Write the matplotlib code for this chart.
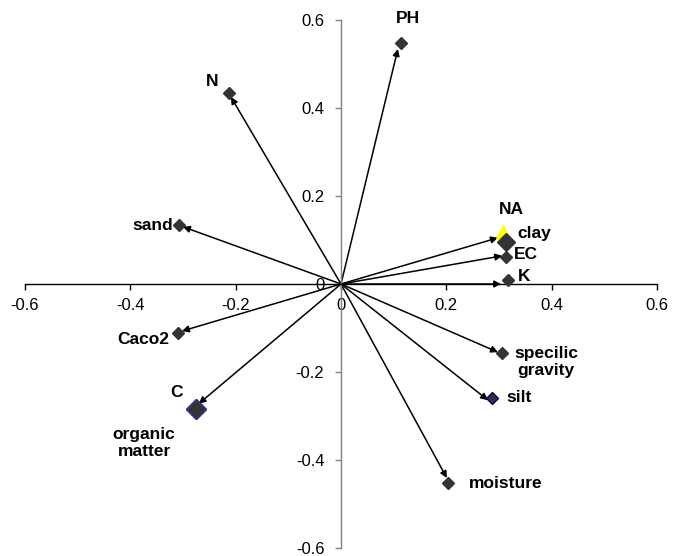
import matplotlib
matplotlib.use("Agg")
import matplotlib.pyplot as plt

plt.rcParams['font.family'] = ['Liberation Sans', 'DejaVu Sans']

# Variable loadings (marker positions)
variables = ["PH", "N", "sand", "NA", "clay", "EC", "K", "Caco2",
             "specilic\ngravity", "silt", "C", "organic\nmatter", "moisture"]
load_x = [0.114, -0.213, -0.308, 0.308, 0.313, 0.313, 0.317, -0.309,
          0.306, 0.287, -0.275, -0.275, 0.203]
load_y = [0.548, 0.434, 0.134, 0.118, 0.095, 0.061, 0.009, -0.111,
          -0.157, -0.259, -0.284, -0.284, -0.452]

# Arrow tips (None = no arrow drawn)
arrow_x = [0.108, -0.209, -0.300, None, 0.298, 0.306, 0.304, -0.302,
           0.298, 0.279, -0.270, None, 0.201]
arrow_y = [0.534, 0.425, 0.130, None, 0.105, 0.064, 0.000, -0.107,
           -0.155, -0.264, -0.272, None, -0.441]

x_ticks = [-0.6, -0.4, -0.2, 0, 0.2, 0.4, 0.6]
y_ticks = [-0.6, -0.4, -0.2, 0, 0.2, 0.4, 0.6]
x_tick_labels = ["-0.6", "-0.4", "-0.2", "0", "0.2", "0.4", "0.6"]
y_tick_labels = ["-0.6", "-0.4", "-0.2", "0", "0.2", "0.4", "0.6"]

# styles per variable: (marker, size, face, edge)
styles = {
    "NA": ("^", 10, "#FFFF00", "#FFFF00"),
    "clay": ("D", 9.5, "#333333", "#333333"),
    "silt": ("D", 6, "#333333", "#000080"),
    "C": ("D", 10.5, "#333333", "#333399"),
    "organic\nmatter": ("D", 10.5, "#333333", "#333399"),
}
default_style = ("D", 6, "#333333", "#333333")

# label offsets in pixels + alignment
label_pos = {
    "PH": (7, 24, "center", "center"),
    "N": (-17, 12, "center", "center"),
    "sand": (-6, 0, "right", "center"),
    "NA": (8, 23, "center", "center"),
    "clay": (12, 9, "left", "center"),
    "EC": (8, 3, "left", "center"),
    "K": (10, 4, "left", "center"),
    "Caco2": (-9, -7, "right", "center"),
    "specilic\ngravity": (12, -9, "left", "center"),
    "silt": (14, 0, "left", "center"),
    "C": (-20, 16, "center", "center"),
    "organic\nmatter": (-52, -34, "center", "center"),
    "moisture": (21, -1, "left", "center"),
}

fig = plt.figure(figsize=(6.74, 5.56), dpi=100)
ax = fig.add_axes([25 / 674, 8 / 556, 632 / 674, 528 / 556])
ax.set_xlim(-0.6, 0.6)
ax.set_ylim(-0.6, 0.6)

ax.spines['top'].set_visible(False)
ax.spines['right'].set_visible(False)
ax.spines['left'].set_position(('data', 0))
ax.spines['bottom'].set_position(('data', 0))
ax.spines['left'].set_color('#808080')
ax.spines['bottom'].set_color('black')
ax.spines['left'].set_linewidth(1.0)
ax.spines['bottom'].set_linewidth(1.0)

ax.set_xticks(x_ticks)
ax.set_xticklabels(x_tick_labels)
ax.set_yticks(y_ticks)
ax.set_yticklabels(y_tick_labels)
ax.tick_params(axis='x', direction='out', length=4, width=1, color='black',
               labelsize=12, pad=6)
ax.tick_params(axis='y', direction='out', length=4, width=1, color='#808080',
               labelsize=12, pad=8)

# arrows
for ax_, ay_ in zip(arrow_x, arrow_y):
    if ax_ is None:
        continue
    ax.annotate("", xy=(ax_, ay_), xytext=(0, 0),
                arrowprops=dict(arrowstyle='-|>', color='black', lw=1.1,
                                mutation_scale=10, shrinkA=0, shrinkB=0),
                zorder=2)

# markers
for name, x, y in zip(variables, load_x, load_y):
    m, s, fc, ec = styles.get(name, default_style)
    z = 3 if name == "NA" else 4
    ax.plot([x], [y], marker=m, markersize=s, markerfacecolor=fc,
            markeredgecolor=ec, markeredgewidth=1.0, linestyle='none', zorder=z)

# labels
for name, x, y in zip(variables, load_x, load_y):
    dx, dy, ha, va = label_pos[name]
    ax.annotate(name, xy=(x, y), xytext=(dx, dy), textcoords='offset pixels',
                ha=ha, va=va, fontsize=12.5, fontweight='bold',
                multialignment='center', linespacing=1.2, zorder=5)

fig.savefig("out.png", dpi=100)
